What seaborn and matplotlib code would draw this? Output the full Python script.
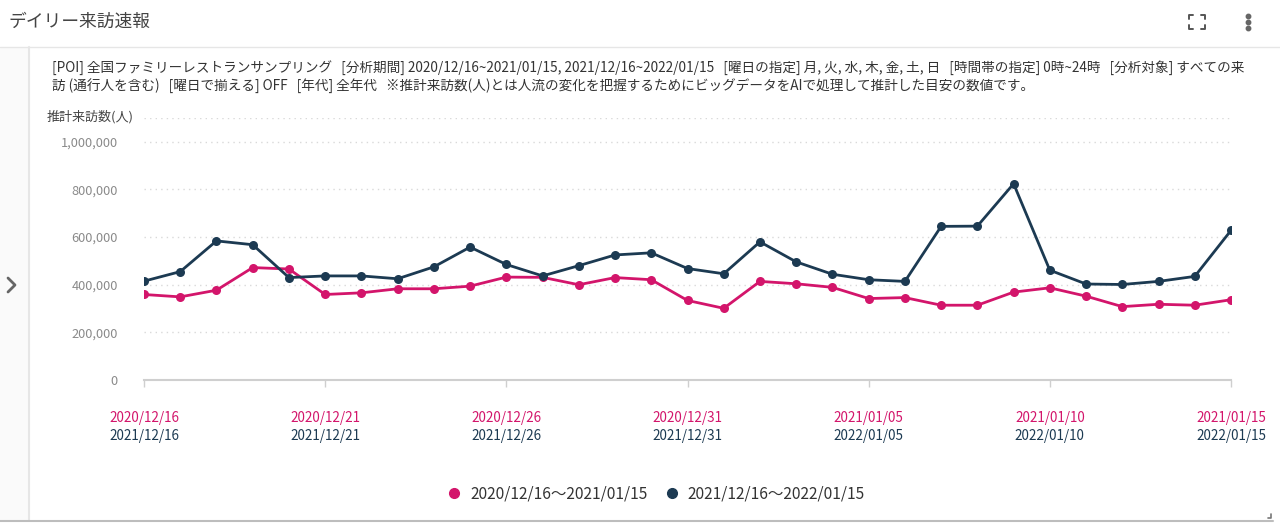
import matplotlib

matplotlib.use("Agg")
import matplotlib.pyplot as plt
import pandas as pd
import seaborn as sns
from matplotlib.lines import Line2D
from matplotlib.patches import Rectangle
from matplotlib.ticker import FuncFormatter

# daily estimated visitors, 12/16 -> 01/15
prev_label = "2020/12/16～2021/01/15"
curr_label = "2021/12/16～2022/01/15"
prev_dates = pd.date_range("2020-12-16", "2021-01-15")
curr_dates = pd.date_range("2021-12-16", "2022-01-15")
prev_visits = [
    359000, 349000, 377000, 472000, 466000, 359000, 366000, 383000, 383000, 394000,
    432000, 431000, 400000, 430000, 421000, 334000, 301000, 414000, 404000, 389000,
    342000, 346000, 314000, 314000, 369000, 387000, 352000, 308000, 318000, 314000, 337000,
]
curr_visits = [
    415000, 455000, 584000, 568000, 430000, 437000, 437000, 425000, 475000, 558000,
    485000, 437000, 480000, 525000, 534000, 468000, 446000, 580000, 496000, 444000,
    421000, 414000, 645000, 646000, 824000, 461000, 403000, 401000, 414000, 435000, 628000,
]
y_ticks = [0, 200000, 400000, 600000, 800000, 1000000]

PINK = "#d3156b"
NAVY = "#1c3a52"

W, H = 1280, 523

df = pd.concat(
    [
        pd.DataFrame({"day": range(len(prev_visits)), "visits": prev_visits, "period": prev_label}),
        pd.DataFrame({"day": range(len(curr_visits)), "visits": curr_visits, "period": curr_label}),
    ]
)

sns.set_theme(style="white")
plt.rcParams["font.family"] = ["Noto Sans CJK JP", "DejaVu Sans"]

fig = plt.figure(figsize=(W / 100, H / 100), dpi=100)
fig.patch.set_facecolor("white")


def px(x, y):
    return x / W, 1 - y / H


# card chrome
fig.patches.append(Rectangle(px(0, 520), 29 / W, 473 / H, transform=fig.transFigure,
                             facecolor="#fafafa", edgecolor="none", zorder=0))
fig.lines.append(Line2D([0, 1], [px(0, 47)[1]] * 2, transform=fig.transFigure, color="#e6e6e6", lw=1))
fig.lines.append(Line2D([px(29, 0)[0]] * 2, [px(0, 47)[1], px(0, 520)[1]], transform=fig.transFigure,
                        color="#e6e6e6", lw=1.5))
fig.lines.append(Line2D([0, px(1273, 0)[0]], [px(0, 520.5)[1]] * 2, transform=fig.transFigure,
                        color="#bdbdbd", lw=1.5))
fig.lines.append(Line2D([px(1268, 0)[0], px(1271, 0)[0], px(1271, 0)[0]],
                        [px(0, 518)[1], px(0, 518)[1], px(0, 514)[1]],
                        transform=fig.transFigure, color="#777777", lw=1.2))
# chevron
fig.lines.append(Line2D([px(8, 0)[0], px(15, 0)[0], px(8, 0)[0]], [px(0, 278)[1], px(0, 285)[1], px(0, 292)[1]],
                        transform=fig.transFigure, color="#666666", lw=2))
# fullscreen icon
for cx, cy, dx, dy in [(1189, 15, 1, 1), (1205, 15, -1, 1), (1189, 29, 1, -1), (1205, 29, -1, -1)]:
    fig.lines.append(Line2D([px(cx + 4 * dx, 0)[0], px(cx, 0)[0], px(cx, 0)[0]],
                            [px(0, cy)[1], px(0, cy)[1], px(0, cy + 4 * dy)[1]],
                            transform=fig.transFigure, color="#555555", lw=1.4))
for cy in (16, 22, 28):
    fig.lines.append(Line2D([px(1248, 0)[0]], [px(0, cy)[1]], transform=fig.transFigure,
                            marker="o", ms=3.2, color="#666666", lw=0))

fig.text(*px(8, 22), "デイリー来訪速報", fontsize=12.8, color="#444444", va="center", ha="left")

desc1 = ("[POI] 全国ファミリーレストランサンプリング   [分析期間] 2020/12/16~2021/01/15, 2021/12/16~2022/01/15   "
         "[曜日の指定] 月, 火, 水, 木, 金, 土, 日   [時間帯の指定] 0時~24時   [分析対象] すべての来")
desc2 = ("訪 (通行人を含む)   [曜日で揃える] OFF   [年代] 全年代   "
         "※推計来訪数(人)とは人流の変化を把握するためにビッグデータをAIで処理して推計した目安の数値です。")
fig.text(*px(52, 68), desc1, fontsize=9.8, color="#333333", va="center", ha="left")
fig.text(*px(52, 86), desc2, fontsize=9.8, color="#333333", va="center", ha="left")
fig.text(*px(47, 117), "推計来訪数(人)", fontsize=9.4, color="#444444", va="center", ha="left")

# plot area: x 144..1231, y 0 at 380, top (1.1M) at 118
left, right, y0, ytop = 144, 1231, 380, 118
ax = fig.add_axes([left / W, 1 - y0 / H, (right - left) / W, (y0 - ytop) / H])
ax.set_facecolor("none")

sns.lineplot(data=df, x="day", y="visits", hue="period", palette={prev_label: PINK, curr_label: NAVY},
             marker="o", markersize=6.5, markeredgewidth=0, linewidth=2, legend=False, ax=ax)

ax.set_xlim(0, len(prev_visits) - 1)
ax.set_ylim(0, 1100000)
ax.set_yticks(y_ticks + [1100000])
ax.yaxis.set_major_formatter(FuncFormatter(lambda v, _: f"{int(v):,}" if v <= 1000000 else ""))
ax.tick_params(axis="y", length=0, pad=19, labelsize=9.2, labelcolor="#8a8a8a")
ax.grid(axis="y", color="#d9d9d9", linestyle=(0, (1, 3)), linewidth=1)
ax.set_xlabel("")
ax.set_ylabel("")
for side in ("top", "right", "left"):
    ax.spines[side].set_visible(False)
ax.spines["bottom"].set_color("#cfcfcf")
ax.spines["bottom"].set_linewidth(1.5)

tick_days = list(range(0, len(prev_visits), 5))
ax.set_xticks(tick_days)
ax.set_xticklabels([])
ax.tick_params(axis="x", length=5, width=1, color="#cfcfcf", direction="out", bottom=True)
for d in tick_days:
    ax.text(d, -(418 - y0) / (y0 - ytop), prev_dates[d].strftime("%Y/%m/%d"), transform=ax.get_xaxis_transform(),
            ha="center", va="center", fontsize=9.7, color=PINK)
    ax.text(d, -(436 - y0) / (y0 - ytop), curr_dates[d].strftime("%Y/%m/%d"), transform=ax.get_xaxis_transform(),
            ha="center", va="center", fontsize=9.7, color=NAVY)

handles = [
    Line2D([], [], marker="o", linestyle="", color=PINK, markersize=7, label=prev_label),
    Line2D([], [], marker="o", linestyle="", color=NAVY, markersize=7, label=curr_label),
]
fig.legend(handles=handles, loc="center", bbox_to_anchor=px(652, 494), ncol=2, frameon=False,
           fontsize=11.2, handletextpad=0.05, columnspacing=0.5, labelcolor="#333333")

fig.savefig("out.png", dpi=100, facecolor="white")
